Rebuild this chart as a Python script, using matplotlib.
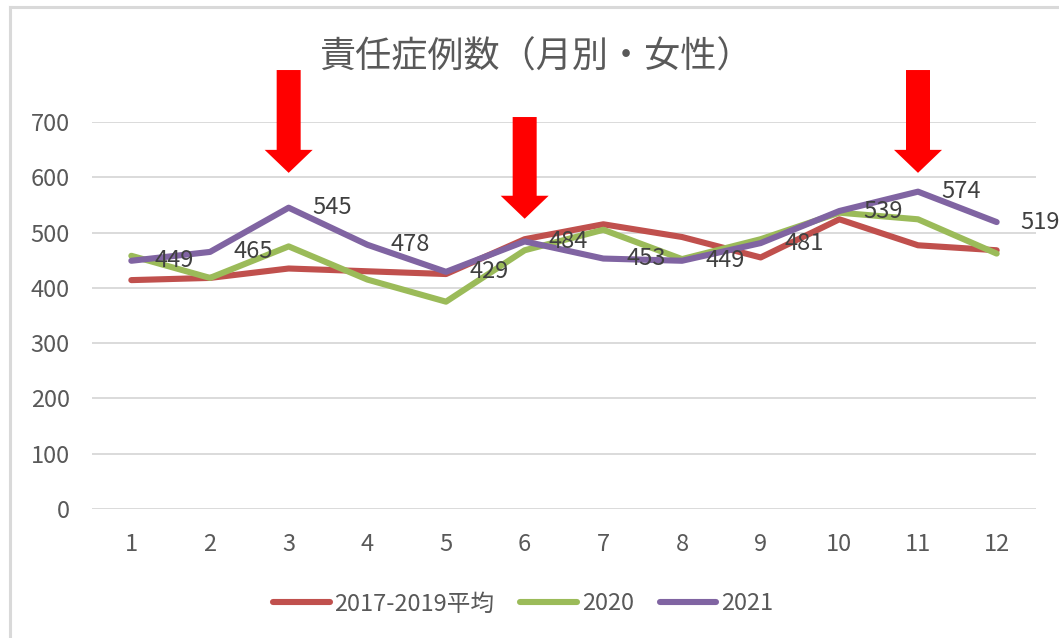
import matplotlib
matplotlib.use("Agg")
import matplotlib.pyplot as plt
from matplotlib.lines import Line2D

plt.rcParams['font.family'] = ['Noto Sans CJK JP', 'DejaVu Sans']

months = list(range(1, 13))
month_labels = [str(m) for m in months]
avg_2017_2019 = [414, 418, 435, 430, 425, 488, 515, 492, 455, 524, 477, 468]
y2020 = [458, 418, 475, 415, 375, 468, 505, 452, 488, 536, 524, 462]
y2021 = [449, 465, 545, 478, 429, 484, 453, 449, 481, 539, 574, 519]
series_names = ["2017-2019平均", "2020", "2021"]
colors = ["#C0504D", "#9BBB59", "#8064A2"]
yticks = [0, 100, 200, 300, 400, 500, 600, 700]
title = "責任症例数（月別・女性）"
# arrows: (month, tip value, tail value)
arrow_months = [3, 6, 11]
arrow_tips = [608, 525, 608]
arrow_tails = [794, 709, 794]

W, H = 1059, 638
fig = plt.figure(figsize=(W / 100, H / 100), dpi=100)
ax = fig.add_axes([92 / W, 1 - 509 / H, (1036 - 92) / W, (509 - 122) / H])

for name, vals, c in zip(series_names, [avg_2017_2019, y2020, y2021], colors):
    ax.plot(months, vals, color=c, lw=4.4, solid_joinstyle='round',
            solid_capstyle='round', label=name)

for m, v in zip(months, y2021):
    ax.annotate(str(v), xy=(m, v), xytext=(17, 0), textcoords='offset points',
                ha='left', va='center', fontsize=17, color='#404040',
                annotation_clip=False)

ax.set_xlim(0.5, 12.5)
ax.set_ylim(0, 700)
ax.set_xticks(months)
ax.set_xticklabels(month_labels)
ax.set_yticks(yticks)
ax.grid(axis='y', color='#d4d4d4', lw=1.2)
ax.set_axisbelow(True)
for s in ax.spines.values():
    s.set_visible(False)
ax.tick_params(axis='both', length=0, labelsize=17, colors='#595959')
ax.tick_params(axis='x', pad=17)
ax.tick_params(axis='y', pad=16)

for m, tip, tail in zip(arrow_months, arrow_tips, arrow_tails):
    ax.annotate('', xy=(m, tip), xytext=(m, tail),
                arrowprops=dict(arrowstyle='simple,head_length=23,head_width=48,tail_width=24',
                                mutation_scale=0.72, color='#FF0000', lw=0,
                                shrinkA=0, shrinkB=0),
                annotation_clip=False)

fig.text(536 / W, 1 - 58 / H, title, ha='center', va='center', fontsize=26, color='#595959')

leg = ax.legend(loc='center', bbox_to_anchor=((523 - 92) / (1036 - 92), (509 - 604) / (509 - 122)),
                ncol=3, frameon=False, fontsize=17, handlelength=2.4,
                handletextpad=0.2, columnspacing=1.1, labelcolor='#595959')

fig.add_artist(Line2D([10 / W, 10 / W], [0, 1 - 7 / H], color='#d9d9d9', lw=2.2,
                      transform=fig.transFigure))
fig.add_artist(Line2D([10 / W, 1], [1 - 7 / H, 1 - 7 / H], color='#d9d9d9', lw=2.2,
                      transform=fig.transFigure))

fig.savefig('out.png', dpi=100)
